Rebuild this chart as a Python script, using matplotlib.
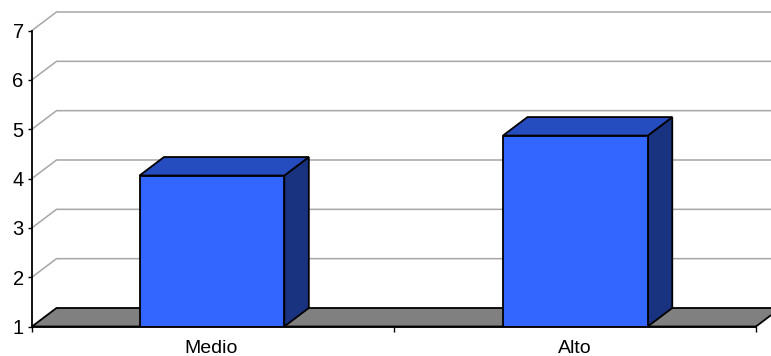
import matplotlib
matplotlib.use("Agg")
import matplotlib.pyplot as plt
from matplotlib.patches import Polygon

plt.rcParams['font.family'] = ['Liberation Sans', 'DejaVu Sans']

categories = ['Medio', 'Alto']
values = [4.06, 4.87]
y_ticks = [1, 2, 3, 4, 5, 6, 7]

W, H = 771, 356
depth_x = 24.5 / 362   # profundidade 3D em unidades de dados
depth_y = 18.5 / 49.33
bar_w = 0.4
centers = [0.497, 1.501]
edge = 1.3

fig = plt.figure(figsize=(W / 100, H / 100), dpi=100)
ax = fig.add_axes([32 / W, 1 - 326.5 / H, (756 - 32) / W, (326.5 - 30.5) / H])
ax.set_xlim(0, len(categories))
ax.set_ylim(1, 7)
ax.patch.set_visible(False)

# grade com a perspectiva
for y in y_ticks[1:]:
    ax.plot([0, depth_x, 2 + depth_x], [y, y + depth_y, y + depth_y], color='#a6a6a6', lw=1.1,
            clip_on=False, zorder=1, solid_joinstyle='miter')

# chao
ax.add_patch(Polygon([(0, 1), (depth_x, 1 + depth_y), (2 + depth_x, 1 + depth_y), (2, 1)],
                     facecolor='#808080', edgecolor='black', lw=edge, clip_on=False, zorder=2))

for c, v in zip(centers, values):
    x0 = c - bar_w / 2
    x1 = c + bar_w / 2
    ax.add_patch(Polygon([(x1, 1), (x1 + depth_x, 1 + depth_y), (x1 + depth_x, v + depth_y), (x1, v)],
                         facecolor='#1a3380', edgecolor='black', lw=edge, clip_on=False, zorder=3))
    ax.add_patch(Polygon([(x0, v), (x0 + depth_x, v + depth_y), (x1 + depth_x, v + depth_y), (x1, v)],
                         facecolor='#264dbf', edgecolor='black', lw=edge, clip_on=False, zorder=3))
    ax.bar(c, v - 1, bottom=1, width=bar_w, color='#3366ff', edgecolor='black', lw=edge, zorder=4)

for s in ['top', 'right']:
    ax.spines[s].set_visible(False)
for s in ['left', 'bottom']:
    ax.spines[s].set_linewidth(edge)
    ax.spines[s].set_zorder(5)

ax.set_yticks(y_ticks)
ax.set_xticks([0, 1, 2])
ax.set_xticklabels([])
ax.set_xticks([0.494, 1.5], labels=categories, minor=True)
ax.tick_params(axis='x', which='major', length=3.5, width=1.0, pad=2)
ax.tick_params(axis='x', which='minor', length=0, pad=9.5, labelsize=14)
ax.tick_params(axis='y', length=3, width=1.0, pad=3, labelsize=14.5)

fig.savefig('out.png', dpi=100)
